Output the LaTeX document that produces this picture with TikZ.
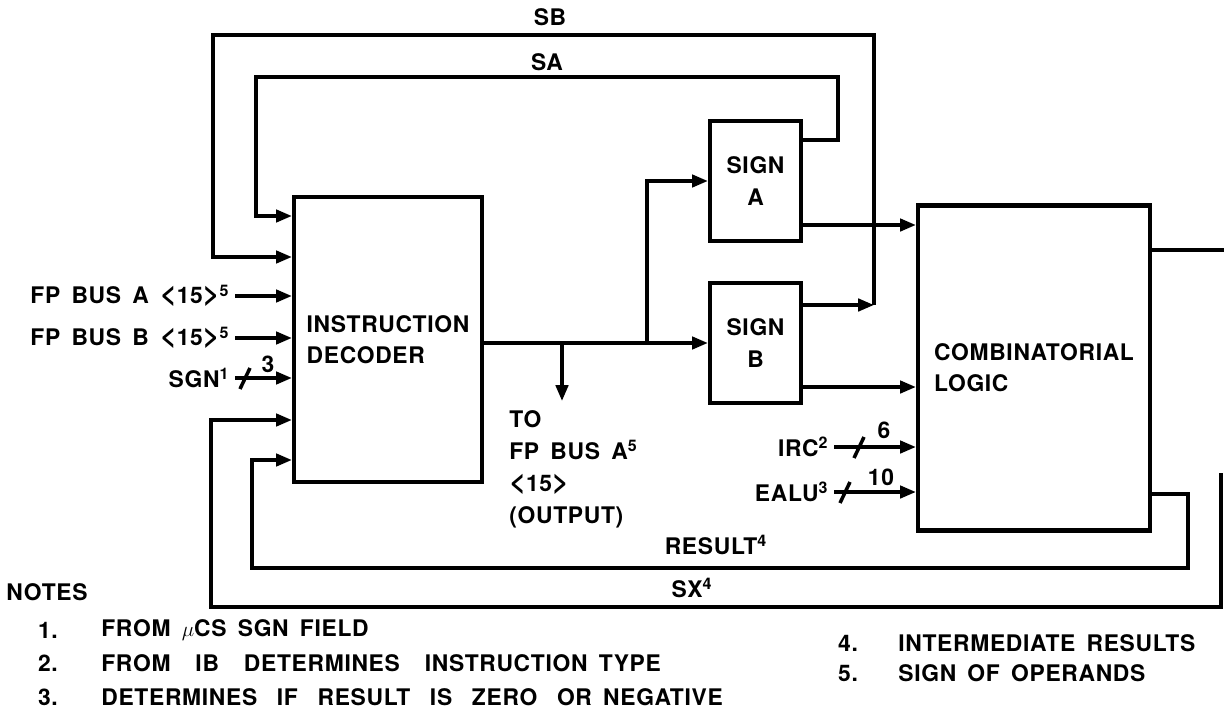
\documentclass[tikz,border=0pt]{standalone}
\usepackage{fontspec}
\setmainfont{TeX Gyre Heros}[LetterSpace=3,WordSpace=1.6]
\usetikzlibrary{arrows.meta}
\newcommand{\bw}[1]{\scalebox{1.25}{<}#1\scalebox{1.25}{>}}
\tikzset{
  block/.style={rectangle, draw, line width=2.4pt, inner sep=0pt,
    font=\bfseries\fontsize{13}{17.5}\selectfont},
  lbl/.style={inner sep=0pt, font=\bfseries\fontsize{13}{14}\selectfont},
  inport/.style={lbl, anchor=east, inner xsep=3pt},
  note/.style={lbl, anchor=west},
  arrow/.style={-{Triangle[length=9pt,width=7pt]}, line width=2pt},
  wire/.style={line width=2pt}
}

\begin{document}
\begin{tikzpicture}[x=0.02cm, y=-0.02cm]
  % Page
  \useasboundingbox (0,0) rectangle (1224,713);

  % Blocks
  \node[block, minimum width=3.76cm, minimum height=5.7cm, align=left] (dec) at (388,339.5) {INSTRUCTION\\DECODER};
  \node[block, minimum width=1.82cm, minimum height=2.4cm, align=center, font=\bfseries\fontsize{13}{18.2}\selectfont] (signa) at (755.5,181) {SIGN\\A};
  \node[block, minimum width=1.82cm, minimum height=2.4cm, align=center, font=\bfseries\fontsize{13}{18.2}\selectfont] (signb) at (755.5,343) {SIGN\\B};
  \node[block, minimum width=4.64cm, minimum height=6.5cm, align=left] (comb) at (1034,368) {COMBINATORIAL\\LOGIC};

  % Bends and ports
  \coordinate (sbx) at (874,305);
  \coordinate (sbTL) at (213,35);
  \coordinate (sbIn) at (0,257);
  \coordinate (sax) at (838,140);
  \coordinate (saTL) at (256,77);
  \coordinate (saIn) at (0,216);
  \coordinate (brA) at (647,343);
  \coordinate (brD) at (562,343);
  \coordinate (toFP) at (562,401);
  \coordinate (aOut) at (0,225);
  \coordinate (bOut) at (0,387);
  \coordinate (cOut) at (1224,250);
  \coordinate (resR) at (1188,494);
  \coordinate (resBL) at (252,568);
  \coordinate (resIn) at (0,460);
  \coordinate (sxR) at (1221,473);
  \coordinate (sxBL) at (211,607);
  \coordinate (sxIn) at (0,420);

  % Inputs to the decoder
  \node[inport] (fpa) at (235,296) {FP BUS A \bw{15}\textsuperscript{5}};
  \node[inport] (fpb) at (235,338) {FP BUS B \bw{15}\textsuperscript{5}};
  \node[inport] (sgn) at (235,378) {SGN\textsuperscript{1}};
  \draw[arrow] (fpa.east) -- (fpa.east -| dec.west);
  \draw[arrow] (fpb.east) -- (fpb.east -| dec.west);
  \draw[arrow] (sgn.east) -- (sgn.east -| dec.west);
  \draw[wire] (240,389) -- (250,368);
  \node[lbl] (w3) at (268,364) {3};

  % Feedback SB and SA
  \draw[arrow] (signb.east |- sbx) -- (sbx);
  \draw[arrow] (sbx) |- (sbTL) |- (dec.west |- sbIn);
  \node[lbl] (sb) at (550,17) {SB};
  \draw[arrow] (signa.east |- sax) -- (sax) |- (saTL) |- (dec.west |- saIn);
  \node[lbl] (sa) at (547,62) {SA};

  % Decoder output
  \draw[arrow] (dec.east |- signb.west) -- (signb.west);
  \draw[arrow] (brA) |- (signa.west);
  \draw[arrow] (brD) -- (toFP);
  \node[lbl, anchor=north west, align=left, font=\bfseries\fontsize{13}{18.2}\selectfont] (tofp) at (509,410) {TO\\FP BUS A\textsuperscript{5}\\\bw{15}\\(OUTPUT)};

  % Sign outputs to the logic
  \draw[arrow] (signa.east |- aOut) -- (comb.west |- aOut);
  \draw[arrow] (signb.east |- bOut) -- (comb.west |- bOut);
  \draw[wire] (comb.east |- cOut) -- (cOut);

  % IRC and EALU
  \node[inport] (irc) at (834,447) {IRC\textsuperscript{2}};
  \draw[arrow] (irc.east) -- (irc.east -| comb.west);
  \draw[wire] (854,458) -- (864,437);
  \node[lbl] (w6) at (884,430) {6};
  \node[inport] (ealu) at (834,492) {EALU\textsuperscript{3}};
  \draw[arrow] (ealu.east) -- (ealu.east -| comb.west);
  \draw[wire] (840,503) -- (850,482);
  \node[lbl] (w10) at (881,477) {10};

  % RESULT and SX loops
  \draw[arrow] (comb.east |- resR) -- (resR) |- (resBL) |- (dec.west |- resIn);
  \node[lbl] (result) at (716,545) {RESULT\textsuperscript{4}};
  \draw[arrow] (sxR) |- (sxBL) |- (dec.west |- sxIn);
  \node[lbl] (sx) at (692,588) {SX\textsuperscript{4}};

  % Notes
  \node[lbl] (notes) at (47,592) {NOTES};
  \node[lbl] (n1) at (48,630) {1.};
  \node[note] (t1) at (101,630) {FROM $\mu$CS SGN FIELD};
  \node[lbl] (n2) at (48,663) {2.};
  \node[note] (t2) at (101,663) {FROM\hspace{0.6em} IB\hspace{0.6em} DETERMINES\hspace{0.6em} INSTRUCTION TYPE};
  \node[lbl] (n3) at (48,697) {3.};
  \node[note] (t3) at (101,697) {DETERMINES\hspace{0.37em} IF\hspace{0.37em} RESULT\hspace{0.37em} IS\hspace{0.37em} ZERO\hspace{0.37em} OR NEGATIVE};
  \node[lbl] (n4) at (848,643) {4.};
  \node[note] (t4) at (898,643) {INTERMEDIATE RESULTS};
  \node[lbl] (n5) at (848,673) {5.};
  \node[note] (t5) at (898,673) {SIGN OF OPERANDS};
\end{tikzpicture}
\end{document}
